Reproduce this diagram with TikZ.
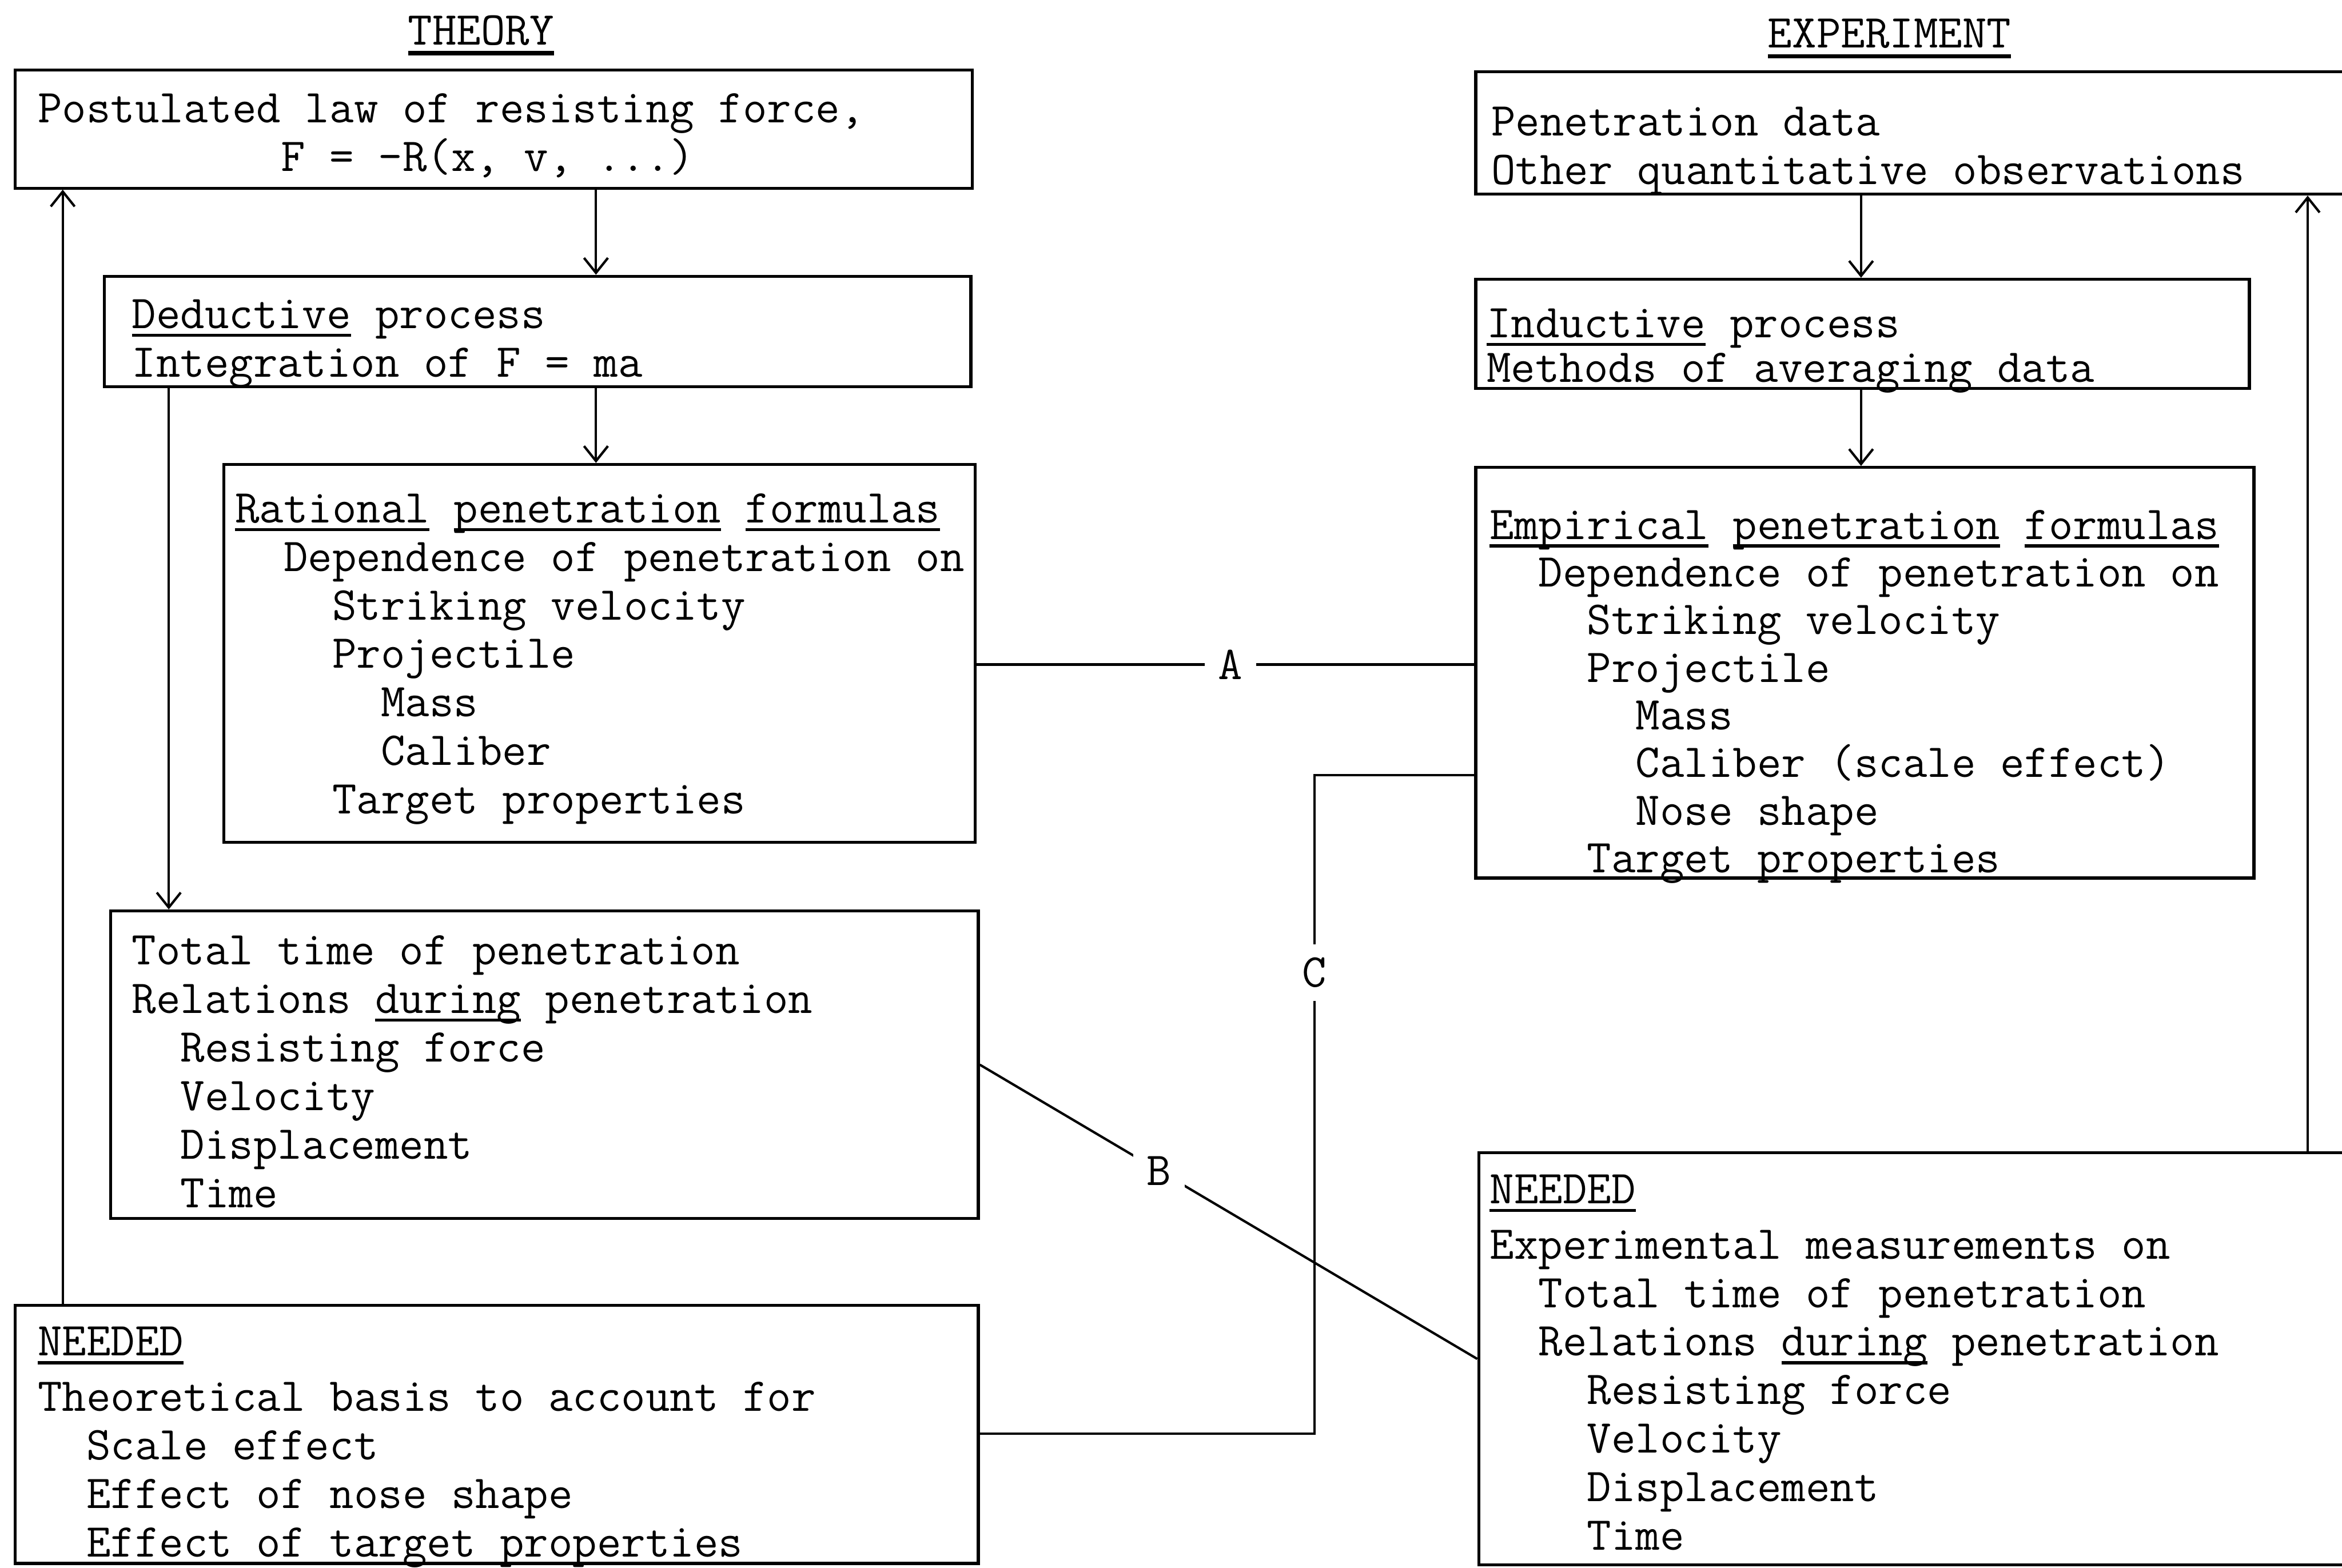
\documentclass[tikz,border=0pt]{standalone}
\usetikzlibrary{arrows.meta,fit}
\newcommand\uw[1]{\leavevmode\setbox0\hbox{#1}\rlap{\rule[-2.8pt]{\wd0}{1pt}}\box0\relax}
\newcommand\uwb[1]{\leavevmode\setbox0\hbox{#1}\rlap{\rule[-3.6pt]{\wd0}{1.5pt}}\box0\relax}
\newcommand\ind[1]{\hspace*{#1\fontcharwd\font`x}\ignorespaces}
\newcommand\lines[1]{\begin{tabular}[t]{@{}l@{}}#1\end{tabular}}
\tikzset{
  box/.style={draw, line width=1pt, inner sep=0pt, rectangle},
  txt/.style={anchor=base west, inner sep=0pt, font=\ttfamily\fontsize{15.8}{#1}\selectfont\frenchspacing},
  txt/.default=16.25pt,
  arr/.style={line width=0.8pt, -{Straight Barb[length=5pt,width=8pt]}},
  conn/.style={line width=0.8pt},
  lbl/.style={fill=white, inner sep=4.5pt, font=\ttfamily\fontsize{15.8}{16}\selectfont}
}
\begin{document}
\begin{tikzpicture}[x=0.5pt,y=-0.5pt]
\useasboundingbox (0,0) rectangle (1568,1050);
\fill[white] (0,0) rectangle (1568,1050);
\clip (0,0) rectangle (1568,1050);

% headers
\node[txt, anchor=base] (hT) at (322,30) {\uwb{THEORY}};
\node[txt, anchor=base] (hE) at (1265,32) {\uwb{EXPERIMENT}};

% theory boxes
\node[box, fit={(10,47) (651,126)}] (P) {};
\node[txt] (tP) at (25,82) {\lines{Postulated law of resisting force,\\ \ind{10}F = -R(x, v, ...)}};

\node[box, fit={(70,185) (650,259)}] (D) {};
\node[txt] (tD) at (88,220) {\lines{\uw{Deductive} process\\ Integration of F = ma}};

\node[box, fit={(150,311) (653,564)}] (R) {};
\node[txt] (tR) at (157,350) {\lines{\uw{Rational} \uw{penetration} \uw{formulas}\\
  \ind{2}Dependence of penetration on\\
  \ind{4}Striking velocity\\
  \ind{4}Projectile\\
  \ind{6}Mass\\
  \ind{6}Caliber\\
  \ind{4}Target properties}};

\node[box, fit={(74,610) (655,816)}] (T) {};
\node[txt] (tT) at (88,646) {\lines{Total time of penetration\\
  Relations \uw{during} penetration\\
  \ind{2}Resisting force\\
  \ind{2}Velocity\\
  \ind{2}Displacement\\
  \ind{2}Time}};

\node[box, fit={(10,874) (655,1047)}] (NL) {};
\node[txt] (tNL) at (25,908) {\lines{\uw{NEEDED}\\[2.25pt]
  Theoretical basis to account for\\
  \ind{2}Scale effect\\
  \ind{2}Effect of nose shape\\
  \ind{2}Effect of target properties}};

% experiment boxes
\node[box, fit={(988,48) (1600,130)}] (PD) {};
\node[txt] (tPD) at (998,91) {\lines{Penetration data\\ Other quantitative observations}};

\node[box, fit={(988,187) (1506,260)}] (ID) {};
\node[txt] (tID) at (995,226) {\lines{\uw{Inductive} process\\[-1.25pt] Methods of averaging data}};

\node[box, fit={(988,313) (1509,588)}] (E) {};
\node[txt=15.95pt] (tE) at (997,361) {\lines{\uw{Empirical} \uw{penetration} \uw{formulas}\\
  \ind{2}Dependence of penetration on\\
  \ind{4}Striking velocity\\
  \ind{4}Projectile\\
  \ind{6}Mass\\
  \ind{6}Caliber (scale effect)\\
  \ind{6}Nose shape\\
  \ind{4}Target properties}};

\node[box, fit={(990,772) (1600,1048)}] (NR) {};
\node[txt] (tNR) at (997,806) {\lines{\uw{NEEDED}\\[2.25pt]
  Experimental measurements on\\
  \ind{2}Total time of penetration\\
  \ind{2}Relations \uw{during} penetration\\
  \ind{4}Resisting force\\
  \ind{4}Velocity\\
  \ind{4}Displacement\\
  \ind{4}Time}};

% helper coordinates
\coordinate (xL) at (399,0);
\coordinate (xR) at (1246,0);
\coordinate (xD) at (113,0);
\coordinate (xN) at (42,0);
\coordinate (xE) at (1545,0);
\coordinate (yA) at (0,445);
\coordinate (c1) at (880,960);
\coordinate (c2) at (880,519);

% arrows
\draw[arr] (P.south -| xL) -- (D.north -| xL);
\draw[arr] (D.south -| xL) -- (R.north -| xL);
\draw[arr] (D.south -| xD) -- (T.north -| xD);
\draw[arr] (NL.north -| xN) -- (P.south -| xN);
\draw[arr] (PD.south -| xR) -- (ID.north -| xR);
\draw[arr] (ID.south -| xR) -- (E.north -| xR);
\draw[arr] (NR.north -| xE) -- (PD.south -| xE);

% connectors A, B, C
\draw[conn] (R.east |- yA) -- node[lbl, pos=0.51] {A} (E.west |- yA);
\draw[conn] (T.east) -- node[lbl, pos=0.36] {B} (NR.west);
\draw[conn] (NL.east |- c1) -- (c1) -- node[lbl, pos=0.7] {C} (c2) -- (E.west |- c2);
\end{tikzpicture}
\end{document}
